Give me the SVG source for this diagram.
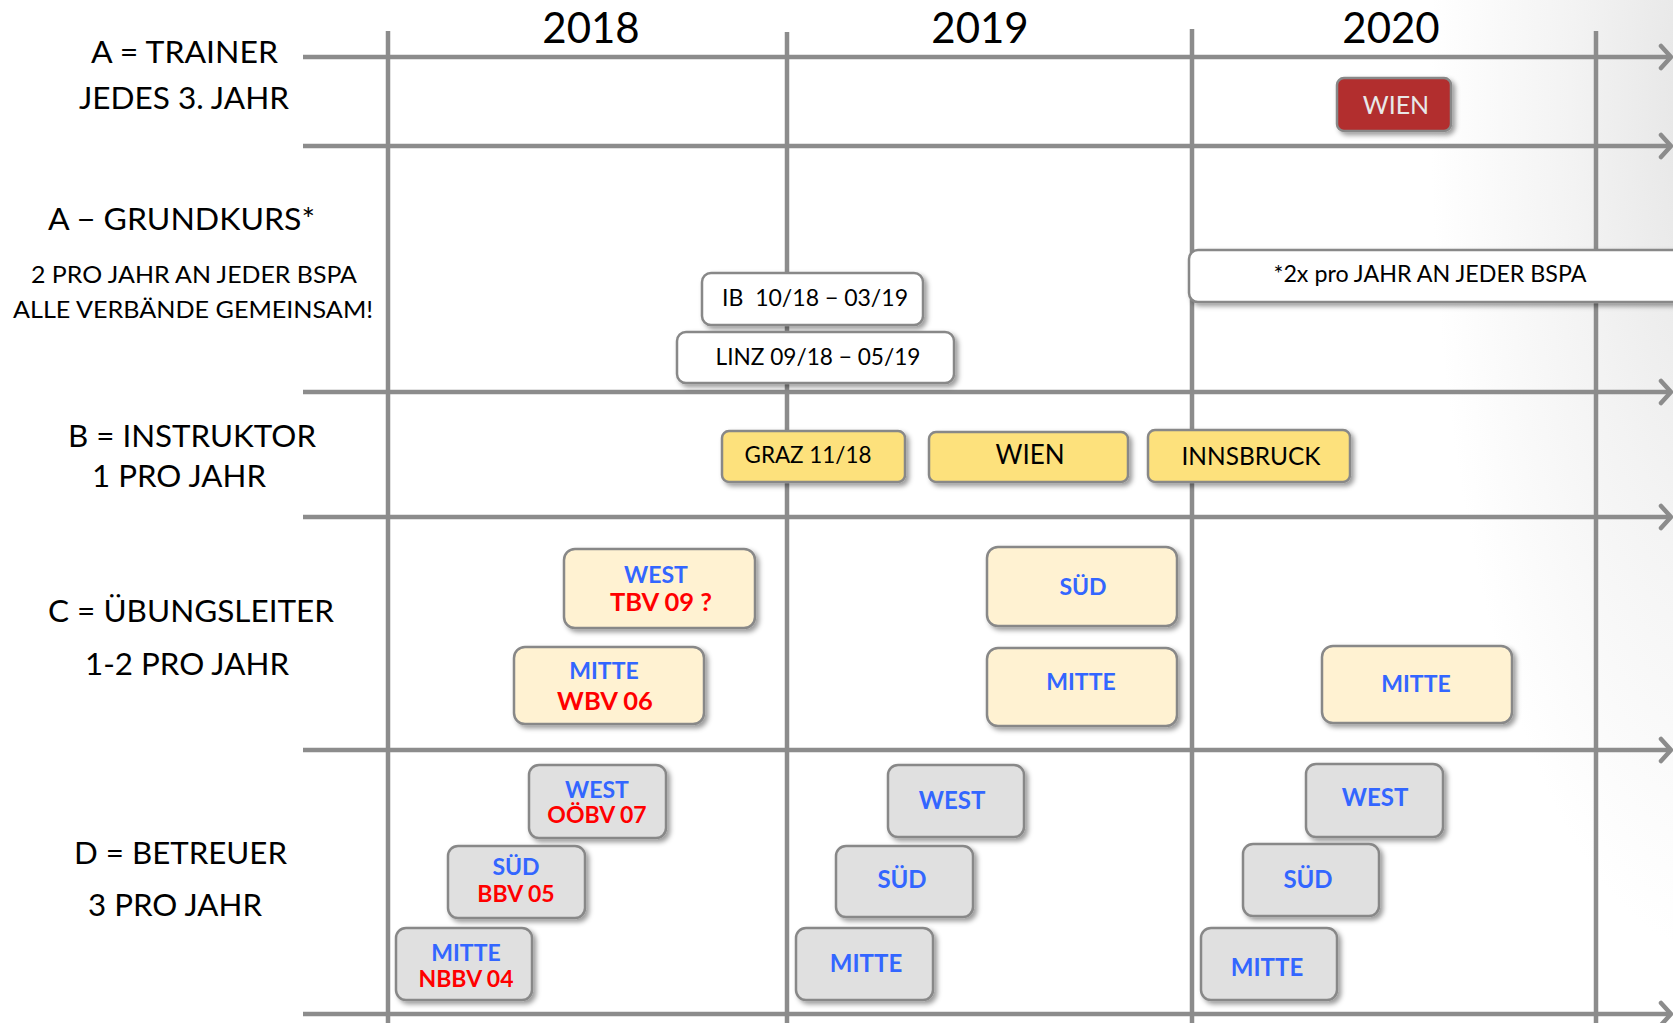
<svg xmlns="http://www.w3.org/2000/svg" width="1673" height="1023" viewBox="0 0 1673 1023">
<defs>
<radialGradient id="bgGrad" gradientUnits="userSpaceOnUse" cx="0" cy="0" r="1" gradientTransform="translate(1710 100) scale(280 850)">
<stop offset="0" stop-color="#e4e4e4"/>
<stop offset="0.5" stop-color="#f3f3f3"/>
<stop offset="1" stop-color="#ffffff"/>
</radialGradient>
<filter id="shadow" x="-20%" y="-30%" width="150%" height="170%">
<feDropShadow dx="3" dy="3" stdDeviation="2.5" flood-color="#000" flood-opacity="0.4"/>
</filter>
<style>
.grid{stroke:#8c8c8c;stroke-width:4.5;fill:none}
.arrow{stroke:#8c8c8c;stroke-width:4.5;fill:none;stroke-linecap:round;stroke-linejoin:round}
.lbl{font-family:Lato,"Open Sans","Liberation Sans",sans-serif;font-size:31px;fill:#000}
.lbls{font-size:23px}
.year{font-family:Lato,"Open Sans","Liberation Sans",sans-serif;font-size:42px;fill:#000;text-anchor:middle}
.box{stroke:#888;stroke-width:2.5;filter:url(#shadow)}
.white{fill:#fff}
.yel{fill:#fde17b}
.cream{fill:#fff2d2}
.gray{fill:#e0e0e0}
.red{fill:#b22e2e}
.bt{font-family:Lato,"Open Sans","Liberation Sans",sans-serif;text-anchor:middle;fill:#000;font-size:23px}
.blue{font-family:Lato,"Open Sans","Liberation Sans",sans-serif;text-anchor:middle;fill:#3366ff;font-weight:700;font-size:23px}
.rt{font-family:Lato,"Open Sans","Liberation Sans",sans-serif;text-anchor:middle;fill:#ff0000;font-weight:700;font-size:25.5px}
</style>
</defs>
<rect x="0" y="0" width="1673" height="1023" fill="#fff"/>
<rect x="1400" y="0" width="273" height="1023" fill="url(#bgGrad)"/>

<g id="connectors">
<line class="grid" x1="388" y1="31" x2="388" y2="1023"/>
<line class="grid" x1="787" y1="32" x2="787" y2="1023"/>
<line class="grid" x1="1192" y1="29" x2="1192" y2="1023"/>
<line class="grid" x1="1596" y1="31" x2="1596" y2="1023"/>
<line class="grid" x1="303" y1="57" x2="1670" y2="57"/>
<line class="grid" x1="303" y1="146" x2="1670" y2="146"/>
<line class="grid" x1="303" y1="392" x2="1670" y2="392"/>
<line class="grid" x1="303" y1="517" x2="1670" y2="517"/>
<line class="grid" x1="303" y1="750" x2="1670" y2="750"/>
<line class="grid" x1="303" y1="1014" x2="1670" y2="1014"/>
<polyline class="arrow" points="1661,46 1671,57 1661,68"/>
<polyline class="arrow" points="1661,135 1671,146 1661,157"/>
<polyline class="arrow" points="1661,381 1671,392 1661,403"/>
<polyline class="arrow" points="1661,506 1671,517 1661,528"/>
<polyline class="arrow" points="1661,739 1671,750 1661,761"/>
<polyline class="arrow" points="1661,1003 1671,1014 1661,1025"/>
</g>

<g id="years">
<text class="year" x="591" y="43">2018</text>
<text class="year" x="980" y="43">2019</text>
<text class="year" x="1391" y="43">2020</text>
</g>

<g id="labels">
<text class="lbl" x="91" y="63" textLength="187" lengthAdjust="spacingAndGlyphs">A = TRAINER</text>
<text class="lbl" x="79" y="109" textLength="210" lengthAdjust="spacingAndGlyphs">JEDES 3. JAHR</text>
<text class="lbl" x="48" y="230" textLength="267" lengthAdjust="spacingAndGlyphs">A − GRUNDKURS*</text>
<text class="lbl lbls" x="31" y="283" textLength="326" lengthAdjust="spacingAndGlyphs">2 PRO JAHR AN JEDER BSPA</text>
<text class="lbl lbls" x="13" y="318" textLength="360" lengthAdjust="spacingAndGlyphs">ALLE VERBÄNDE GEMEINSAM!</text>
<text class="lbl" x="68" y="447" textLength="248" lengthAdjust="spacingAndGlyphs">B = INSTRUKTOR</text>
<text class="lbl" x="92" y="487" textLength="174" lengthAdjust="spacingAndGlyphs">1 PRO JAHR</text>
<text class="lbl" x="48" y="622" textLength="286" lengthAdjust="spacingAndGlyphs">C = ÜBUNGSLEITER</text>
<text class="lbl" x="85" y="675" textLength="204" lengthAdjust="spacingAndGlyphs">1-2 PRO JAHR</text>
<text class="lbl" x="74" y="864" textLength="213" lengthAdjust="spacingAndGlyphs">D = BETREUER</text>
<text class="lbl" x="88" y="916" textLength="174" lengthAdjust="spacingAndGlyphs">3 PRO JAHR</text>
</g>

<g id="node-a-wien">
<rect class="box red" x="1337" y="78" width="114" height="53" rx="7"/>
<text class="bt" x="1396" y="114" style="fill:#e8e8e8;font-size:25px">WIEN</text>
</g>
<g id="node-grund-note">
<rect class="box white" x="1189" y="250" width="500" height="52" rx="9"/>
<text class="bt" x="1430" y="282" textLength="313" lengthAdjust="spacingAndGlyphs">*2x pro JAHR AN JEDER BSPA</text>
</g>
<g id="node-ib">
<rect class="box white" x="702" y="273" width="221" height="52" rx="9"/>
<text class="bt" x="815" y="306" style="white-space:pre" textLength="186" lengthAdjust="spacingAndGlyphs">IB  10/18 − 03/19</text>
</g>
<g id="node-linz">
<rect class="box white" x="677" y="332" width="277" height="51" rx="9"/>
<text class="bt" x="818" y="365" textLength="205" lengthAdjust="spacingAndGlyphs">LINZ 09/18 − 05/19</text>
</g>
<g id="node-b-graz">
<rect class="box yel" x="722" y="431" width="183" height="51" rx="7"/>
<text class="bt" x="808" y="463" textLength="127" lengthAdjust="spacingAndGlyphs">GRAZ 11/18</text>
</g>
<g id="node-b-wien">
<rect class="box yel" x="929" y="432" width="199" height="50" rx="7"/>
<text class="bt" x="1030" y="464" style="font-size:26px">WIEN</text>
</g>
<g id="node-b-innsbruck">
<rect class="box yel" x="1148" y="430" width="202" height="52" rx="7"/>
<text class="bt" x="1251" y="465" style="font-size:25px" textLength="139" lengthAdjust="spacingAndGlyphs">INNSBRUCK</text>
</g>

<g id="node-c-2018-west">
<rect class="box cream" x="564" y="549" width="191" height="79" rx="11"/>
<text class="blue" x="656" y="583">WEST</text>
<text class="rt" x="661" y="611">TBV 09 ?</text>
</g>
<g id="node-c-2018-mitte">
<rect class="box cream" x="514" y="647" width="190" height="77" rx="11"/>
<text class="blue" x="604" y="679">MITTE</text>
<text class="rt" x="605" y="710">WBV 06</text>
</g>
<g id="node-c-2019-sued">
<rect class="box cream" x="987" y="547" width="190" height="79" rx="11"/>
<text class="blue" x="1083" y="595">SÜD</text>
</g>
<g id="node-c-2019-mitte">
<rect class="box cream" x="987" y="648" width="190" height="78" rx="11"/>
<text class="blue" x="1081" y="690">MITTE</text>
</g>
<g id="node-c-2020-mitte">
<rect class="box cream" x="1322" y="646" width="190" height="77" rx="11"/>
<text class="blue" x="1416" y="692">MITTE</text>
</g>

<g id="node-d-2018-west">
<rect class="box gray" x="529" y="765" width="137" height="73" rx="10"/>
<text class="blue" x="597" y="798">WEST</text>
<text class="rt" x="597" y="823" style="font-size:23px">OÖBV 07</text>
</g>
<g id="node-d-2018-sued">
<rect class="box gray" x="448" y="846" width="137" height="72" rx="10"/>
<text class="blue" x="516" y="875">SÜD</text>
<text class="rt" x="516" y="902" style="font-size:23px">BBV 05</text>
</g>
<g id="node-d-2018-mitte">
<rect class="box gray" x="396" y="928" width="136" height="72" rx="10"/>
<text class="blue" x="466" y="961">MITTE</text>
<text class="rt" x="466" y="987" style="font-size:23px">NBBV 04</text>
</g>
<g id="node-d-2019-west">
<rect class="box gray" x="888" y="765" width="136" height="72" rx="10"/>
<text class="blue" x="952" y="809" style="font-size:24px">WEST</text>
</g>
<g id="node-d-2019-sued">
<rect class="box gray" x="836" y="846" width="137" height="71" rx="10"/>
<text class="blue" x="902" y="888" style="font-size:24px">SÜD</text>
</g>
<g id="node-d-2019-mitte">
<rect class="box gray" x="796" y="928" width="137" height="72" rx="10"/>
<text class="blue" x="866" y="972" style="font-size:24px">MITTE</text>
</g>
<g id="node-d-2020-west">
<rect class="box gray" x="1306" y="764" width="137" height="73" rx="10"/>
<text class="blue" x="1375" y="806" style="font-size:24px">WEST</text>
</g>
<g id="node-d-2020-sued">
<rect class="box gray" x="1243" y="844" width="136" height="72" rx="10"/>
<text class="blue" x="1308" y="888" style="font-size:24px">SÜD</text>
</g>
<g id="node-d-2020-mitte">
<rect class="box gray" x="1201" y="928" width="136" height="72" rx="10"/>
<text class="blue" x="1267" y="976" style="font-size:24px">MITTE</text>
</g>
</svg>
